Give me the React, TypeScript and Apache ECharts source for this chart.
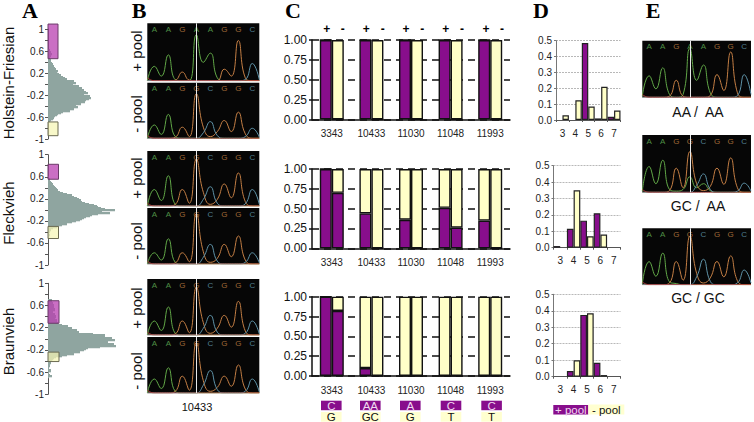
import React, { useEffect, useRef } from "react";
import * as echarts from "echarts";

const FONT = "Liberation Sans";
const PURPLE = "#880e8c";
const YELLOW = "#ffffc8";

// Panel A: histogram bar lengths, read per bin of 0.02 from the top bin downwards
const histTopStart = 0.62;
const histTop = [2,3,2,4,3,3,1,2,2,3,3,4,5,5,6,5,7,8,8,10,9,11,13,12,15,17,19,18,26,22,28,25,31,27,34,31,36,33,38,40,36,42,39,43,41,38,35,37,31,33,28,30,24,26,20,22,15,13,10,9,7,6,5,3,2,1];
const histMidStart = 0.6;
const histMid = [1,1,2,2,3,4,5,5,6,7,8,9,10,12,15,19,24,22,26,29,31,33,34,37,41,46,49,50,53,57,67,54,62,50,44,42,38,36,34,32,28,24,19,14,11,9,5,3,3,2,2,1,2,1,1,1];
const histBotStart = 0.7;
const histBot = [4,4,5,5,6,6,6,6,7,7,5,5,7,7,8,8,7,7,9,9,10,10,14,20,20,24,24,29,31,31,45,57,57,52,64,64,67,60,60,66,66,68,52,40,38,36,32,26,26,19,14,8,6,5,4,3,3,2,2,2,1,1,1,3,3,1,1,2,4,1];
const boxesTop = [[0, 10, 1.09, 0.46], [0, 10, -0.69, -0.94]];
const boxesMid = [[0, 10.5, 0.826, 0.555], [0, 10.5, -0.3, -0.52]];
const boxesBot = [[0, 11, 0.686, 0.28], [0, 11, -0.24, -0.41]];

// Panel C
const markers = ["3343", "10433", "11030", "11048", "11993"];
const cPlus1 = [1, 1, 1, 1, 1];
const cMinus1 = [0, 0, 0, 0, 0];
const cPlus2 = [1, 0.44, 0.36, 0.51, 0.35];
const cMinus2 = [0.7, 0, 0, 0.26, 0];
const cPlus3 = [1, 0.1, 0, 0, 0];
const cMinus3 = [0.82, 0, 0, 0, 0];
const alleleTop = ["C", "AA", "A", "C", "C"];
const alleleBottom = ["G", "GC", "G", "T", "T"];

// Panel D
const dCats = ["3", "4", "5", "6", "7"];
const dPlus1 = [null, null, 0.485, 0.01, 0.02];
const dMinus1 = [0.03, 0.125, 0.085, 0.21, 0.06];
const dPlus2 = [0.01, 0.115, 0.165, 0.21, null];
const dMinus2 = [null, 0.35, 0.07, 0.08, null];
const dPlus3 = [null, 0.035, 0.375, 0.085, null];
const dMinus3 = [null, 0.1, 0.385, 0.01, null];

// Chromatograms: trace heights at half-base steps
const seqAAGAAGGC = ["", "A", "", "A", "", "G", "", "A", "", "A", "", "G", "", "G", "", "C", ""];
const seqAAGGCGGC = ["", "A", "", "A", "", "G", "", "G", "", "C", "", "G", "", "G", "", "C", ""];
const redBlip = [0.05, 0, 0, 0, 0, 0, 0, 0, 0, 0, 0, 0, 0, 0, 0, 0, 0];

const b1tG = [0, 0.25, 0.08, 0.45, 0.02, 0, 0, 0.8, 0.32, 0.48, 0.05, 0, 0, 0, 0, 0, 0];
const b1tO = [0, 0, 0, 0, 0.01, 0.15, 0.01, 0, 0, 0, 0, 0.2, 0.08, 0.7, 0.05, 0, 0];
const b1tB = [0, 0, 0, 0, 0, 0, 0, 0, 0, 0, 0, 0, 0, 0, 0.02, 0.3, 0.02];

const b1bG = [0, 0.24, 0.07, 0.43, 0.03, 0, 0, 0, 0, 0, 0, 0, 0, 0, 0, 0, 0];
const b1bO = [0, 0, 0, 0, 0.02, 0.2, 0.03, 0.8, 0.2, 0.03, 0.12, 0.32, 0.12, 0.47, 0.08, 0, 0];
const b1bB = [0, 0, 0, 0, 0, 0, 0, 0, 0.1, 0.3, 0.05, 0, 0, 0, 0.03, 0.18, 0.02];

const b2tG = [0, 0.3, 0.1, 0.55, 0.03, 0, 0, 0, 0, 0, 0, 0, 0, 0, 0, 0, 0];
const b2tO = [0, 0, 0, 0, 0.03, 0.3, 0.05, 0.85, 0.25, 0.03, 0.12, 0.4, 0.15, 0.6, 0.08, 0, 0];
const b2tB = [0, 0, 0, 0, 0, 0, 0, 0, 0.12, 0.35, 0.05, 0, 0, 0, 0.04, 0.3, 0.03];

const b2bG = [0, 0.2, 0.07, 0.45, 0.03, 0, 0, 0, 0, 0, 0, 0, 0, 0, 0, 0, 0];
const b2bO = [0, 0, 0, 0, 0.02, 0.2, 0.04, 0.9, 0.22, 0.03, 0.1, 0.35, 0.13, 0.5, 0.07, 0, 0];
const b2bB = [0, 0, 0, 0, 0, 0, 0, 0, 0.12, 0.35, 0.05, 0, 0, 0, 0.03, 0.2, 0.02];

const b3tG = [0, 0.25, 0.08, 0.5, 0.03, 0, 0, 0, 0, 0, 0, 0, 0, 0, 0, 0, 0];
const b3tO = [0, 0, 0, 0, 0.02, 0.25, 0.04, 0.85, 0.22, 0.03, 0.12, 0.35, 0.14, 0.6, 0.07, 0, 0];
const b3tB = [0, 0, 0, 0, 0, 0, 0, 0, 0.12, 0.35, 0.05, 0, 0, 0, 0.03, 0.25, 0.02];

const b3bG = [0, 0.25, 0.08, 0.45, 0.03, 0, 0, 0, 0, 0, 0, 0, 0, 0, 0, 0, 0];
const b3bO = [0, 0, 0, 0, 0.03, 0.3, 0.05, 0.9, 0.22, 0.03, 0.1, 0.3, 0.12, 0.5, 0.07, 0, 0];
const b3bB = [0, 0, 0, 0, 0, 0, 0, 0, 0.14, 0.4, 0.06, 0, 0, 0, 0.03, 0.25, 0.02];

const e1G = [0.02, 0.38, 0.15, 0.52, 0.05, 0, 0.05, 0.86, 0.3, 0.57, 0.08, 0, 0, 0, 0, 0, 0];
const e1O = [0, 0, 0, 0, 0.02, 0.3, 0.02, 0, 0, 0, 0.03, 0.4, 0.12, 0.8, 0.08, 0, 0];
const e1B = [0, 0, 0, 0, 0, 0, 0, 0, 0, 0, 0, 0, 0, 0, 0.03, 0.4, 0.05];

const e2G = [0.02, 0.45, 0.15, 0.56, 0.05, 0.02, 0.05, 0.27, 0.08, 0.15, 0.03, 0, 0, 0, 0, 0, 0];
const e2O = [0, 0, 0, 0, 0.03, 0.42, 0.08, 0.71, 0.15, 0.03, 0.1, 0.42, 0.14, 0.6, 0.08, 0, 0];
const e2B = [0, 0, 0, 0, 0, 0, 0, 0, 0.12, 0.32, 0.05, 0, 0, 0, 0.02, 0.16, 0.02];

const e3G = [0.02, 0.41, 0.15, 0.56, 0.05, 0.02, 0, 0, 0, 0, 0, 0, 0, 0, 0, 0, 0];
const e3O = [0, 0, 0, 0, 0.03, 0.41, 0.08, 0.86, 0.2, 0.03, 0.12, 0.41, 0.14, 0.51, 0.07, 0, 0];
const e3B = [0, 0, 0, 0, 0, 0, 0, 0, 0.14, 0.45, 0.06, 0, 0, 0, 0.03, 0.26, 0.03];

const TRACE_COLORS = ["#62a848", "#c47f45", "#5f93a8", "#b04040"];

function buildOption() {
  const grid: any[] = [];
  const xAxis: any[] = [];
  const yAxis: any[] = [];
  const series: any[] = [];
  const graphic: any[] = [];

  const addGrid = (g: any, x: any, y: any) => {
    grid.push(g);
    xAxis.push({ gridIndex: grid.length - 1, ...x });
    yAxis.push({ gridIndex: grid.length - 1, ...y });
    return grid.length - 1;
  };

  const text = (t: string, x: number, y: number, font: string, fill = "#111", rot = 0) =>
    graphic.push({
      type: "text",
      x,
      y,
      rotation: rot,
      silent: true,
      style: { text: t, font, fill, align: "center", verticalAlign: "middle", textAlign: "center", textVerticalAlign: "middle" },
    });
  const rect = (x: number, y: number, width: number, height: number, fill: string) =>
    graphic.push({ type: "rect", silent: true, shape: { x, y, width, height }, style: { fill } });

  // Panel A
  const addHist = (top: number, bottom: number, left: number, start: number, vals: number[], boxes: number[][]) => {
    const idx = addGrid(
      { left, top, width: 72, height: bottom - top },
      { type: "value", min: 0, max: 72, show: false },
      {
        type: "value",
        min: -1,
        max: 1,
        interval: 0.2,
        splitLine: { show: false },
        axisLine: { show: true, lineStyle: { color: "#555", width: 1 } },
        axisTick: { show: true, length: 3, lineStyle: { color: "#555" } },
        axisLabel: {
          fontFamily: FONT,
          fontSize: 10,
          color: "#222",
          margin: 4,
          showMinLabel: true,
          showMaxLabel: true,
          formatter: (v: number) => (Math.round(v * 5) % 2 === 0 ? "" : String(Number(v.toFixed(1)))),
        },
      }
    );
    series.push({
      type: "custom",
      xAxisIndex: idx,
      yAxisIndex: idx,
      silent: true,
      z: 3,
      data: vals.map((w, i) => [start - i * 0.02, w]),
      renderItem: (_: any, api: any) => {
        const y = api.value(0);
        const a = api.coord([0, y]);
        const b = api.coord([api.value(1), y - 0.02]);
        return {
          type: "rect",
          shape: { x: a[0], y: Math.floor(a[1]), width: b[0] - a[0], height: Math.ceil(b[1] - a[1]) + 0.3 },
          style: { fill: "#8fa5a0" },
        };
      },
    });
    series.push({
      type: "custom",
      xAxisIndex: idx,
      yAxisIndex: idx,
      silent: true,
      z: 4,
      data: boxes,
      renderItem: (p: any, api: any) => {
        const a = api.coord([api.value(0), api.value(2)]);
        const b = api.coord([api.value(1), api.value(3)]);
        const first = p.dataIndex === 0;
        return {
          type: "rect",
          shape: { x: a[0], y: a[1], width: b[0] - a[0], height: b[1] - a[1] },
          style: {
            fill: first ? "rgba(184,63,176,0.75)" : "rgba(245,245,180,0.72)",
            stroke: first ? "#6a3a68" : "#6a6a50",
            lineWidth: 1,
          },
        };
      },
    });
  };
  addHist(29, 139, 48, histTopStart, histTop, boxesTop);
  addHist(154.7, 265, 48, histMidStart, histMid, boxesMid);
  addHist(283.3, 394.3, 48, histBotStart, histBot, boxesBot);

  // Panel C
  const addStack = (top: number, bottom: number, plus: number[], minus: number[]) => {
    const idx = addGrid(
      { left: 312, top, width: 198, height: bottom - top },
      {
        type: "category",
        data: markers,
        axisLine: { lineStyle: { color: "#111", width: 1.5 } },
        axisTick: { show: false },
        axisLabel: { fontFamily: FONT, fontSize: 10, color: "#222", margin: 9, interval: 0 },
      },
      {
        type: "value",
        min: 0,
        max: 1,
        interval: 0.25,
        axisLine: { show: true, lineStyle: { color: "#111", width: 1.5 } },
        axisTick: { show: true, length: 3, lineStyle: { color: "#111", width: 1.5 } },
        axisLabel: { fontFamily: FONT, fontSize: 12, color: "#111", margin: 5, formatter: (v: number) => v.toFixed(2) },
        splitLine: { show: true, lineStyle: { color: "#111", width: 1.5, type: [7, 5] } },
      }
    );
    const bar = (stack: string, color: string, data: number[]) => ({
      type: "bar",
      xAxisIndex: idx,
      yAxisIndex: idx,
      stack: stack + idx,
      barWidth: 12,
      barGap: "0%",
      silent: true,
      itemStyle: { color, borderColor: "#111", borderWidth: 1.4 },
      data,
    });
    series.push(bar("p", PURPLE, plus));
    series.push(bar("p", YELLOW, plus.map((v) => 1 - v)));
    series.push(bar("m", PURPLE, minus));
    series.push(bar("m", YELLOW, minus.map((v) => 1 - v)));
  };
  addStack(40, 119.5, cPlus1, cMinus1);
  addStack(169, 248.3, cPlus2, cMinus2);
  addStack(296.7, 376, cPlus3, cMinus3);

  // Panel D
  const addDist = (top: number, bottom: number, left: number, plus: any[], minus: any[]) => {
    const idx = addGrid(
      { left, top, width: 620.5 - left, height: bottom - top },
      {
        type: "category",
        data: dCats,
        axisLine: { lineStyle: { color: "#555", width: 1 } },
        axisTick: { show: true, length: 2, lineStyle: { color: "#555" } },
        axisLabel: { fontFamily: FONT, fontSize: 10, color: "#222", margin: 8, interval: 0 },
      },
      {
        type: "value",
        min: 0,
        max: 0.5,
        interval: 0.1,
        axisLine: { show: true, lineStyle: { color: "#777", width: 1 } },
        axisTick: { show: true, length: 2, lineStyle: { color: "#777" } },
        axisLabel: { fontFamily: FONT, fontSize: 10, color: "#222", margin: 4, formatter: (v: number) => v.toFixed(1) },
        splitLine: { show: true, lineStyle: { color: "#b8b8b8", width: 1, type: [2, 1] } },
      }
    );
    const w = (620.5 - left) / 10;
    const bar = (color: string, data: any[]) => ({
      type: "bar",
      xAxisIndex: idx,
      yAxisIndex: idx,
      barWidth: w,
      barGap: "0%",
      silent: true,
      itemStyle: { color, borderColor: "#222", borderWidth: 1.2 },
      data,
    });
    series.push(bar(PURPLE, plus));
    series.push(bar(YELLOW, minus));
  };
  addDist(40.7, 120, 556, dPlus1, dMinus1);
  addDist(165.7, 247.7, 553.5, dPlus2, dMinus2);
  addDist(294.3, 376.7, 553.5, dPlus3, dMinus3);

  // Chromatograms
  const addChrom = (left: number, top: number, bottom: number, seq: string[], traces: number[][], letterSize = 8) => {
    const idx = addGrid(
      { left, top, width: 112, height: bottom - top, show: true, backgroundColor: "#060606", borderWidth: 0 },
      {
        type: "category",
        data: seq,
        boundaryGap: false,
        position: "top",
        axisLine: { show: false },
        axisTick: { show: false },
        splitLine: { show: false },
        axisLabel: {
          inside: true,
          interval: 0,
          margin: 2,
          fontFamily: FONT,
          fontSize: letterSize,
          formatter: (v: string) => (v ? `{${v}|${v}}` : ""),
          rich: {
            A: { color: "#4f8f45", fontFamily: FONT, fontSize: letterSize },
            G: { color: "#a06a38", fontFamily: FONT, fontSize: letterSize },
            C: { color: "#507f90", fontFamily: FONT, fontSize: letterSize },
          },
        },
      },
      { type: "value", min: 0, max: 1, show: false, splitLine: { show: false } }
    );
    traces.concat([redBlip]).forEach((t, i) => {
      series.push({
        type: "line",
        xAxisIndex: idx,
        yAxisIndex: idx,
        data: t,
        smooth: 0.5,
        showSymbol: false,
        silent: true,
        lineStyle: { color: TRACE_COLORS[i], width: 1 },
        markLine:
          i === 0
            ? {
                silent: true,
                symbol: "none",
                animation: false,
                label: { show: false },
                lineStyle: { color: "#e8e8e8", width: 1, type: "solid" },
                data: [{ xAxis: 7 }],
              }
            : undefined,
      });
    });
  };
  addChrom(147.3, 23.3, 80.7, seqAAGAAGGC, [b1tG, b1tO, b1tB]);
  addChrom(147.3, 82.7, 138.3, seqAAGGCGGC, [b1bG, b1bO, b1bB]);
  addChrom(147.3, 151, 206, seqAAGGCGGC, [b2tG, b2tO, b2tB]);
  addChrom(147.3, 208, 264, seqAAGGCGGC, [b2bG, b2bO, b2bB]);
  addChrom(147.3, 279, 335, seqAAGGCGGC, [b3tG, b3tO, b3tB]);
  addChrom(147.3, 337, 393, seqAAGGCGGC, [b3bG, b3bO, b3bB]);
  addChrom(642.3, 40.7, 97.3, seqAAGAAGGC, [e1G, e1O, e1B]);
  addChrom(642.3, 135, 192.3, seqAAGGCGGC, [e2G, e2O, e2B]);
  addChrom(642.3, 228.3, 284.7, seqAAGGCGGC, [e3G, e3O, e3B]);

  // Texts
  const letter = "bold 22px 'Liberation Serif'";
  text("A", 30, 10, letter, "#000");
  text("B", 139, 10, letter, "#000");
  text("C", 293, 10, letter, "#000");
  text("D", 541, 10, letter, "#000");
  text("E", 653, 10, letter, "#000");

  const side = `15px '${FONT}'`;
  const up = Math.PI / 2;
  text("Holstein-Friesian", 8, 83, side, "#111", up);
  text("Fleckvieh", 8, 213, side, "#111", up);
  text("Braunvieh", 8, 341.5, side, "#111", up);
  [[51, 114], [178, 241], [308, 371]].forEach(([a, b]) => {
    text("+ pool", 136, a, side, "#111", up);
    text("- pool", 136, b, side, "#111", up);
  });
  text("10433", 197, 407, `11px '${FONT}'`, "#111");

  const plusX = [326.7, 366.3, 406, 445.7, 486];
  const minusX = [342.7, 382.7, 422.3, 462, 502];
  plusX.forEach((x) => text("+", x, 28.5, `bold 12px '${FONT}'`, "#000"));
  minusX.forEach((x) => text("-", x, 28.5, `bold 12px '${FONT}'`, "#000"));

  const keyX = [321, 360, 400, 440.7, 481.3];
  keyX.forEach((x, i) => {
    rect(x, 400.7, 20.6, 9.5, PURPLE);
    rect(x, 412, 20.6, 9.7, "#ffffd0");
    text(alleleTop[i], x + 10.3, 405.7, `11.5px '${FONT}'`, "#f0d8f0");
    text(alleleBottom[i], x + 10.3, 416.8, `11.5px '${FONT}'`, "#111");
  });

  rect(553.3, 405, 35, 9.5, PURPLE);
  rect(588.3, 404.5, 36, 10, "#ffffd0");
  text("+ pool", 570.8, 409.8, `11.5px '${FONT}'`, "#f0d8f0");
  text("- pool", 606.3, 409.5, `11.5px '${FONT}'`, "#111");

  const eFont = `14px '${FONT}'`;
  text("AA /  AA", 698, 111.7, eFont, "#111");
  text("GC /  AA", 698, 206, eFont, "#111");
  text("GC / GC", 698, 298.3, eFont, "#111");

  return {
    animation: false,
    backgroundColor: "#ffffff",
    textStyle: { fontFamily: FONT },
    grid,
    xAxis,
    yAxis,
    series,
    graphic: { elements: graphic },
  };
}

export default function App() {
  const ref = useRef<HTMLDivElement>(null);
  useEffect(() => {
    document.body.style.margin = "0";
    const chart = echarts.init(ref.current!, undefined, { renderer: "svg" });
    chart.setOption(buildOption() as any);
    return () => chart.dispose();
  }, []);
  return <div ref={ref} style={{ width: 754, height: 422, overflow: "hidden" }} />;
}
